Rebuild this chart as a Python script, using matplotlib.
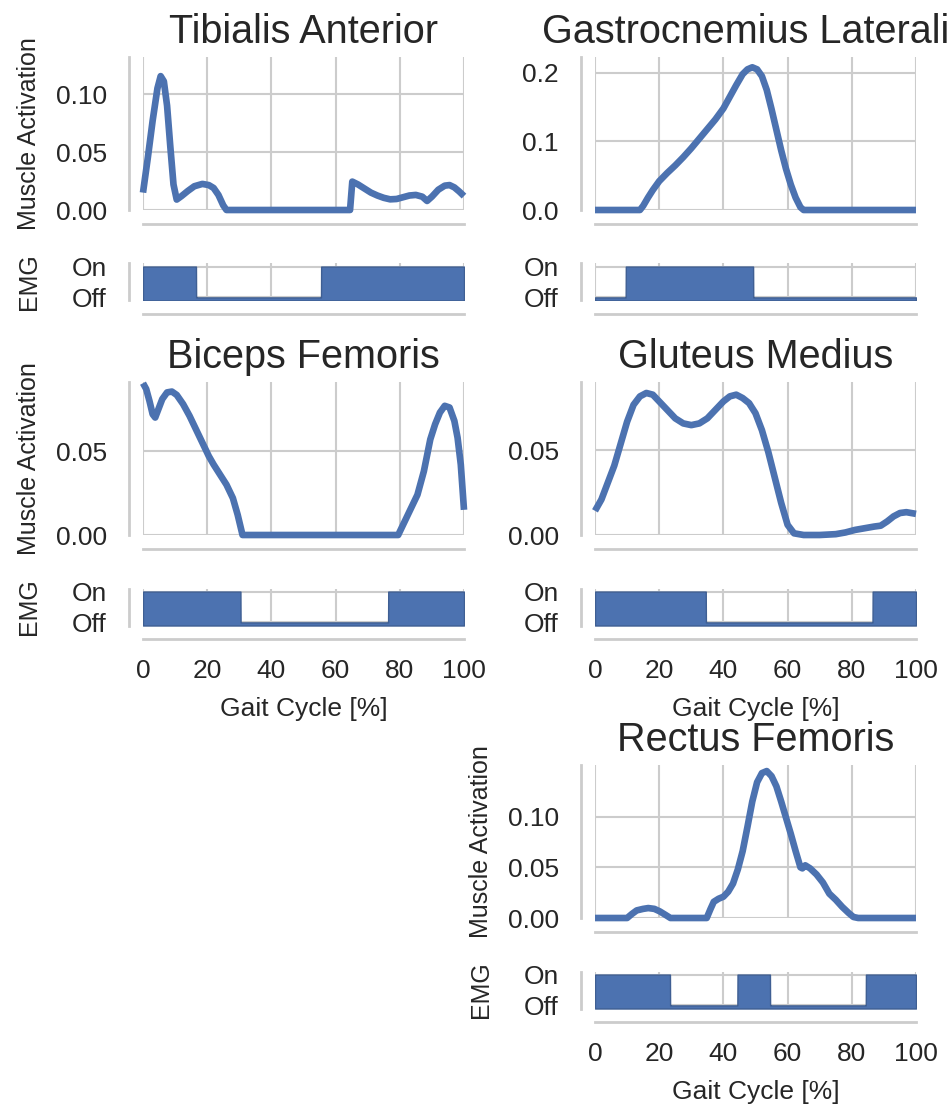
import numpy as np
import matplotlib
matplotlib.use('Agg')
import matplotlib.pyplot as plt
import seaborn as sns

# --- muscle activation curves (gait cycle % -> activation) ---
ta_pct = [0, 1.5, 3, 4.5, 5.5, 6.5, 7.5, 8.5, 9.5, 10.5, 12, 14, 16, 18.5, 20.5, 22, 23.5, 25, 26,
          64.5, 65.2, 67, 69, 71, 73, 75, 77, 79, 81, 83, 85, 87, 88.5, 90, 92, 94, 95.5, 97, 98.5, 100]
ta_act = [0.015, 0.045, 0.077, 0.105, 0.1155, 0.111, 0.09, 0.055, 0.022, 0.009,
          0.012, 0.0165, 0.0205, 0.0225, 0.0215, 0.019, 0.013, 0.004, 0.0,
          0.0, 0.0245, 0.022, 0.0185, 0.015, 0.0125, 0.0105, 0.0092, 0.0095, 0.011,
          0.0125, 0.013, 0.0115, 0.0078, 0.0115, 0.0175, 0.021, 0.0215, 0.0195, 0.016, 0.012]

gl_pct = [0, 14, 15, 16.5, 18, 20, 22.5, 25, 27.5, 30, 32.5, 35, 37.5, 40, 42, 44, 46, 47.5, 49, 50.5,
          52, 53.5, 55, 56.5, 58, 59.5, 61, 62.5, 64, 65, 100]
gl_act = [0, 0, 0.006, 0.018, 0.029, 0.042, 0.054, 0.065, 0.077, 0.09, 0.104, 0.118, 0.132, 0.148,
          0.165, 0.182, 0.198, 0.205, 0.208, 0.205, 0.195, 0.175, 0.147, 0.117, 0.087, 0.06,
          0.037, 0.018, 0.004, 0, 0]

bf_pct = [0, 1, 2, 3, 3.8, 4.8, 6, 7.5, 9, 10.5, 12.5, 14.5, 16.5, 18.5, 20.5, 22, 24, 26, 28, 29.5,
          31, 79.5, 81.5, 83.5, 85.5, 87.5, 89.5, 91, 92.5, 94, 95.5, 97, 98, 99, 100]
bf_act = [0.0905, 0.087, 0.08, 0.072, 0.070, 0.075, 0.081, 0.085, 0.0855, 0.0835,
          0.078, 0.071, 0.063, 0.055, 0.047, 0.042, 0.036, 0.03, 0.022, 0.012,
          0, 0, 0.008, 0.016, 0.024, 0.038, 0.057, 0.066, 0.073, 0.077,
          0.076, 0.068, 0.058, 0.042, 0.015]

gm_pct = [0, 2, 4, 6, 8, 10, 12, 14, 16, 18, 20, 22.5, 25, 27.5, 30, 32.5, 35, 37.5, 40, 42,
          44, 46, 48, 50, 52, 54, 56, 58, 60, 62, 65, 70, 75, 78, 81, 84, 87, 89, 91, 93, 95, 97, 100]
gm_act = [0.0143, 0.021, 0.031, 0.041, 0.054, 0.067, 0.077, 0.082, 0.084, 0.083,
          0.079, 0.074, 0.069, 0.066, 0.065, 0.066, 0.069, 0.074, 0.079, 0.082,
          0.083, 0.081, 0.078, 0.072, 0.062, 0.049, 0.034, 0.019, 0.006, 0.001,
          0.0, 0.0, 0.0005, 0.0015, 0.003, 0.004, 0.005, 0.0055, 0.008, 0.011,
          0.013, 0.0135, 0.0125]

rf_pct = [0, 10, 11.5, 13, 15, 16.6, 18.5, 20.2, 22, 23.5, 34.8, 36, 37, 38.5, 40, 41.5, 43, 44.5,
          46, 47.5, 49, 50.5, 52, 53.5, 55, 56.5, 58, 59.5, 61, 62.5, 64, 64.6, 65.5, 67, 69, 71,
          73, 75, 77, 79, 80.5, 82, 100]
rf_act = [0, 0, 0.004, 0.0075, 0.009, 0.0098, 0.009, 0.0065, 0.003, 0,
          0, 0.009, 0.016, 0.019, 0.021, 0.026, 0.034, 0.048, 0.066, 0.09,
          0.115, 0.134, 0.143, 0.145, 0.14, 0.13, 0.115, 0.099, 0.083, 0.066,
          0.05, 0.049, 0.052, 0.049, 0.043, 0.035, 0.024, 0.018, 0.011, 0.005,
          0.001, 0, 0]

# --- EMG on intervals (gait cycle %) ---
ta_emg = [(0, 16.5), (55.5, 100)]
gl_emg = [(9.6, 49.3)]
bf_emg = [(0, 30.4), (76.4, 100)]
gm_emg = [(0, 34.5), (86.5, 100)]
rf_emg = [(0, 23.4), (44.4, 54.5), (84.4, 100)]

BLUE = '#4C72B0'
W, H = 949, 1105

sns.set_style('whitegrid')
plt.rcParams.update({
    'font.family': ['Liberation Sans', 'DejaVu Sans'],
    'axes.edgecolor': '#cccccc',
    'axes.linewidth': 2.0,
    'grid.color': '#cccccc',
    'grid.linewidth': 1.5,
    'xtick.labelsize': 19,
    'ytick.labelsize': 19,
    'axes.labelsize': 18,
    'axes.titlesize': 28.5,
    'xtick.major.size': 0,
    'ytick.major.size': 0,
    'xtick.major.pad': 14,
    'ytick.major.pad': 16,
    'text.color': '#262626',
    'axes.labelcolor': '#262626',
    'xtick.color': '#262626',
    'ytick.color': '#262626',
})


def px_rect(x0, top, x1, bottom):
    return [x0 / W, 1 - bottom / H, (x1 - x0) / W, (bottom - top) / H]


def plot_muscle(fig, x0, x1, top, name, pct, act, emg_on, ylim, yticks, ylabels, xlabels):
    bottom = top + 153
    ax = fig.add_axes(px_rect(x0, top, x1, bottom))
    ax.plot(pct, act, color=BLUE, lw=4.8, clip_on=False, solid_capstyle='butt')
    ax.set_xlim(0, 100)
    ax.set_ylim(*ylim)
    ax.set_xticks(range(0, 101, 20))
    ax.set_yticks(yticks)
    ax.tick_params(labelbottom=False)
    ax.set_title(name, pad=10)
    sns.despine(ax=ax, offset=10)

    e_top = bottom + 53.5
    ax2 = fig.add_axes(px_rect(x0, e_top, x1, e_top + 37))
    gait = np.linspace(0, 100, 2001)
    level = np.zeros_like(gait)
    for s, e in emg_on:
        level[(gait >= s) & (gait <= e)] = 1
    ax2.fill_between(gait, -0.1, level, facecolor=BLUE, edgecolor='#3f5f93', lw=1)
    ax2.set_xlim(0, 100)
    ax2.set_ylim(-0.1, 1.1)
    ax2.set_xticks(range(0, 101, 20))
    ax2.set_yticks([0, 1])
    ax2.set_yticklabels(['Off', 'On'])
    sns.despine(ax=ax2, offset=10)
    if xlabels:
        ax2.set_xlabel('Gait Cycle [%]', labelpad=10, fontsize=19)
    else:
        ax2.tick_params(labelbottom=False)
    if ylabels:
        ax.set_ylabel('Muscle Activation')
        ax2.set_ylabel('EMG')
        ax.yaxis.set_label_coords(-0.318, 0.5)
        ax2.yaxis.set_label_coords(-0.318, 0.5)


fig = plt.figure(figsize=(W / 100, H / 100), dpi=100)

plot_muscle(fig, 143, 464, 57, 'Tibialis Anterior', ta_pct, ta_act, ta_emg,
            (0, 0.132), [0, 0.05, 0.10], True, False)
plot_muscle(fig, 595, 916, 57, 'Gastrocnemius Lateralis', gl_pct, gl_act, gl_emg,
            (0, 0.223), [0, 0.1, 0.2], False, False)
plot_muscle(fig, 143, 464, 382, 'Biceps Femoris', bf_pct, bf_act, bf_emg,
            (0, 0.0912), [0, 0.05], True, True)
plot_muscle(fig, 595, 916, 382, 'Gluteus Medius', gm_pct, gm_act, gm_emg,
            (0, 0.0905), [0, 0.05], False, True)
plot_muscle(fig, 595, 916, 765, 'Rectus Femoris', rf_pct, rf_act, rf_emg,
            (0, 0.151), [0, 0.05, 0.10], True, True)

fig.savefig('out.png', dpi=100)
